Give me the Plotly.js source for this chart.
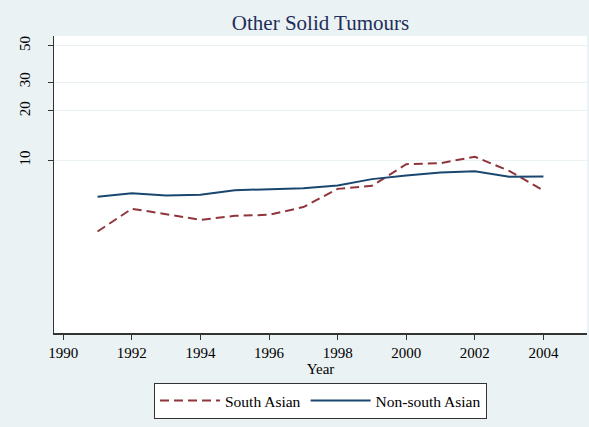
<!DOCTYPE html>
<html>
<head>
<meta charset="utf-8">
<script src="https://cdn.plot.ly/plotly-3.0.1.min.js"></script>
<style>html,body{margin:0;padding:0;background:#eaf2f3;}#chart{width:589px;height:427px;}</style>
</head>
<body>
<div id="chart"></div>
<script>
const years = [1991,1992,1993,1994,1995,1996,1997,1998,1999,2000,2001,2002,2003,2004];
const southAsian = [3.67,5.05,4.68,4.32,4.57,4.64,5.17,6.68,6.97,9.45,9.59,10.5,8.6,6.53];
const nonSouthAsian = [5.97,6.29,6.08,6.16,6.55,6.62,6.75,7.0,7.66,8.05,8.4,8.57,7.91,7.94];
const xTicks = [1990,1992,1994,1996,1998,2000,2002,2004];
const yTicks = [10,20,30,50];
const yTickLabels = ["10","20","30","50"];

const serif = "Liberation Serif, Times New Roman, serif";
const traces = [
  {x: years, y: southAsian, name: "South Asian", type: "scatter", mode: "lines",
   line: {color: "#90353b", width: 2, dash: "9px,5px"}},
  {x: years, y: nonSouthAsian, name: "Non-south Asian", type: "scatter", mode: "lines",
   line: {color: "#1a476f", width: 2}}
];
const layout = {
  width: 589, height: 427,
  paper_bgcolor: "#eaf2f3", plot_bgcolor: "#ffffff",
  margin: {l: 54, r: 2, t: 36, b: 94},
  font: {family: serif, size: 15, color: "#000"},
  title: {text: "Other Solid Tumours", x: 0.5, xref: "paper", xanchor: "center",
          y: 1, yref: "paper", yanchor: "bottom", pad: {b: 6},
          font: {family: serif, size: 21, color: "#1e2d5a"}},
  xaxis: {range: [1989.73, 2005.27], tickvals: xTicks, ticks: "outside", ticklen: 5,
          tickcolor: "#333", showgrid: false, zeroline: false, showline: true,
          linecolor: "#333", linewidth: 1.5, tickfont: {size: 15},
          title: {text: "Year", font: {size: 15}, standoff: 0}},
  yaxis: {type: "log", range: [-0.0555, 1.7584], tickvals: yTicks, ticktext: yTickLabels,
          ticks: "outside", ticklen: 5, tickcolor: "#333", tickangle: -90,
          ticklabelstandoff: 12,
          showgrid: true, gridcolor: "#eaf2f3", gridwidth: 1, zeroline: false,
          showline: true, linecolor: "#333", linewidth: 1.5, tickfont: {size: 15}},
  showlegend: true,
  legend: {orientation: "h", x: 0.5, xanchor: "center", y: -0.168, yanchor: "top",
           bgcolor: "#ffffff", bordercolor: "#333", borderwidth: 1,
           font: {size: 15.5}, itemwidth: 60, tracegroupgap: 0}
};
Plotly.newPlot("chart", traces, layout, {displayModeBar: false, staticPlot: true});
</script>
</body>
</html>
